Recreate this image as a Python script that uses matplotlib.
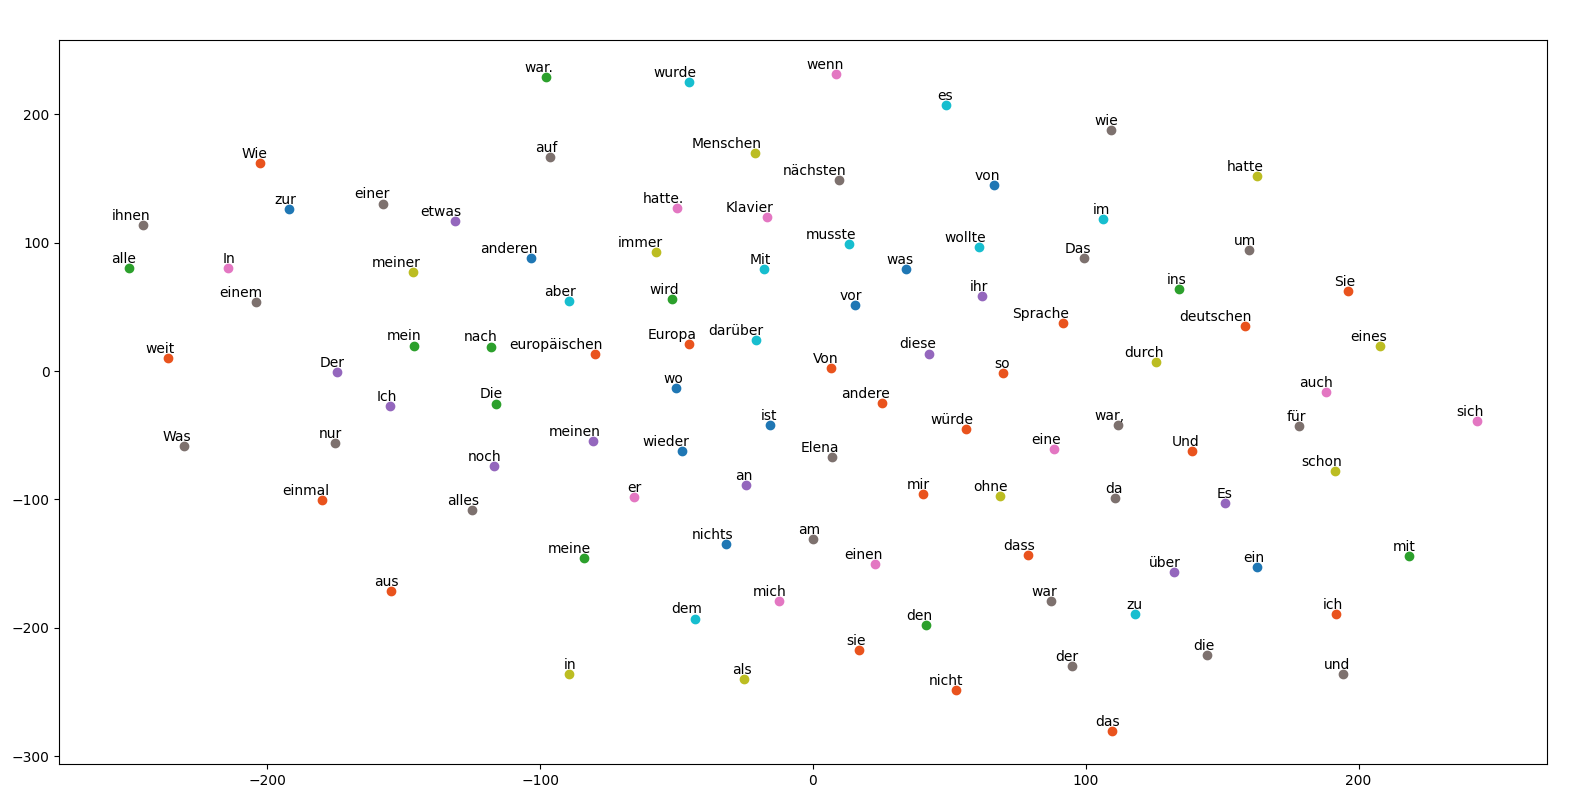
import matplotlib
matplotlib.use("Agg")
import matplotlib.pyplot as plt

# word embedding coordinates (2-D projection)
words = [
    "war.", "wurde", "wenn", "es", "wie", "Wie", "auf", "Menschen", "nächsten", "von",
    "hatte", "zur", "einer", "etwas", "ihnen", "hatte.", "Klavier", "musste", "wollte", "im",
    "alle", "In", "meiner", "anderen", "immer", "Mit", "was", "Das", "um", "einem",
    "aber", "wird", "vor", "ihr", "ins", "Sie", "Sprache", "deutschen", "eines", "weit",
    "mein", "nach", "europäischen", "Europa", "darüber", "diese", "durch", "Der", "Von", "so",
    "wo", "Ich", "Die", "andere", "auch", "sich", "ist", "war,", "für", "würde",
    "Was", "nur", "meinen", "wieder", "Elena", "eine", "Und", "noch", "schon", "an",
    "mir", "ohne", "er", "einmal", "da", "Es", "alles", "nichts", "am", "dass",
    "meine", "mit", "einen", "ein", "über", "aus", "mich", "war", "dem", "zu",
    "ich", "den", "sie", "die", "der", "in", "und", "als", "nicht", "das",
]
xs = [
    -97.8, -45.3, 8.6, 48.9, 109.3, -202.5, -96.3, -21.4, 9.7, 66.2,
    162.6, -192.0, -157.7, -131.3, -245.5, -49.7, -17.0, 13.4, 61.0, 106.5,
    -250.7, -214.4, -146.4, -103.4, -57.4, -17.8, 34.3, 99.5, 160.0, -204.2,
    -89.3, -51.5, 15.6, 61.8, 134.3, 196.2, 91.5, 158.2, 207.9, -236.5,
    -146.1, -118.0, -79.7, -45.3, -20.8, 42.7, 125.9, -174.3, 6.8, 69.5,
    -50.0, -154.9, -116.1, 25.5, 188.1, 243.5, -15.6, 111.8, 178.3, 56.3,
    -230.6, -175.0, -80.5, -47.8, 7.1, 88.2, 139.1, -116.9, 191.4, -24.7,
    40.5, 68.7, -65.4, -179.8, 110.9, 151.2, -124.8, -31.7, 0.0, 79.0,
    -83.8, 218.5, 22.9, 162.9, 132.2, -154.5, -12.3, 87.1, -43.1, 118.2,
    191.8, 41.4, 17.0, 144.6, 94.8, -89.3, 194.4, -25.1, 52.5, 109.8,
]
ys = [
    228.6, 224.7, 230.9, 206.8, 187.3, 161.6, 166.3, 169.4, 148.4, 144.5,
    151.5, 125.8, 130.0, 116.5, 113.4, 126.6, 119.6, 98.6, 96.2, 118.0,
    79.9, 79.9, 76.8, 87.7, 92.4, 79.1, 79.1, 87.7, 93.9, 53.4,
    54.2, 55.8, 51.1, 58.1, 63.6, 62.0, 37.1, 34.8, 19.2, 9.9,
    19.4, 18.6, 13.0, 20.7, 23.9, 13.5, 6.7, -1.0, 2.1, -1.8,
    -13.5, -27.5, -25.7, -25.2, -16.6, -39.2, -42.3, -42.3, -43.1, -45.4,
    -58.7, -56.3, -54.7, -62.5, -67.2, -61.0, -62.5, -74.2, -78.1, -89.0,
    -96.0, -97.6, -98.3, -100.7, -99.1, -103.0, -108.5, -134.9, -131.0, -143.5,
    -145.8, -144.3, -150.5, -152.8, -156.7, -171.5, -179.3, -179.3, -192.8, -189.4,
    -189.4, -198.0, -217.4, -221.3, -229.9, -236.1, -236.1, -240.0, -248.6, -280.5,
]
# colour group of each word
groups = [
    "green", "cyan", "pink", "cyan", "gray", "red", "gray", "olive", "gray", "blue",
    "olive", "blue", "gray", "purple", "gray", "pink", "pink", "cyan", "cyan", "cyan",
    "green", "pink", "olive", "blue", "olive", "cyan", "blue", "gray", "gray", "gray",
    "cyan", "green", "blue", "purple", "green", "red", "red", "red", "olive", "red",
    "green", "green", "red", "red", "cyan", "purple", "olive", "purple", "red", "red",
    "blue", "purple", "green", "red", "pink", "pink", "blue", "gray", "gray", "red",
    "gray", "gray", "purple", "blue", "gray", "pink", "red", "purple", "olive", "purple",
    "red", "olive", "pink", "red", "gray", "purple", "gray", "blue", "gray", "red",
    "green", "green", "pink", "blue", "purple", "red", "pink", "gray", "cyan", "cyan",
    "red", "green", "red", "gray", "gray", "olive", "gray", "olive", "red", "red",
]

palette = {
    "blue": "#1f77b4",
    "green": "#2ca02c",
    "red": "#e9531d",
    "purple": "#9467bd",
    "gray": "#7d716e",
    "pink": "#e377c2",
    "olive": "#bcbd22",
    "cyan": "#17becf",
}

fig = plt.figure(figsize=(15.83, 8), dpi=100)
ax = fig.add_subplot(111)
fig.subplots_adjust(left=0.0375, right=0.9773, top=0.9496, bottom=0.045)

for label, x, y, g in zip(words, xs, ys, groups):
    ax.scatter(x, y, color=palette[g])
    ax.annotate(
        label,
        xy=(x, y),
        xytext=(5, 2),
        textcoords="offset points",
        ha="right",
        va="bottom",
    )

ax.set_xlim(-276.2, 269.1)
ax.set_ylim(-305.9, 257.4)
ax.set_xticks([-200, -100, 0, 100, 200])
ax.set_yticks([-300, -200, -100, 0, 100, 200])

fig.savefig("out.png", dpi=100)
plt.close(fig)
